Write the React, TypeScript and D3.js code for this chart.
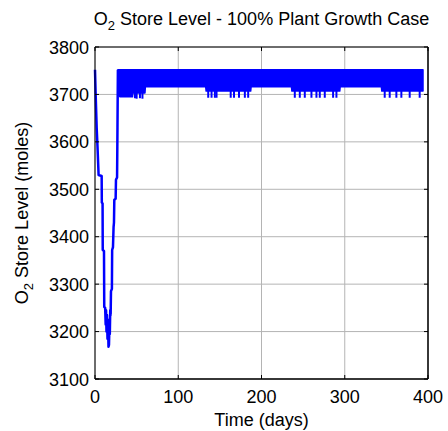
import React from 'react';
import * as d3 from 'd3';

// ---- data ----
const xTicks = [0, 100, 200, 300, 400];
const yTicks = [3100, 3200, 3300, 3400, 3500, 3600, 3700, 3800];

// initial draw-down and recovery (day, moles)
const descentDays = [0, 0.8, 2, 3, 4, 4.3, 8, 8.2, 9.1, 9.3, 10.8, 11.1, 12.2, 12.8, 13.3, 13.8, 14.4, 15, 15.6, 16.2, 16.8, 17.3, 17.8, 18.3, 18.8, 19.2, 20.3, 20.6, 21.6, 22.3, 22.8, 23.2, 24.8, 25.2, 26.5, 26.8, 27.0, 27.5];
const descentValues = [3752, 3700, 3630, 3590, 3545, 3530, 3528, 3472, 3470, 3372, 3370, 3252, 3250, 3215, 3245, 3200, 3235, 3185, 3225, 3168, 3172, 3210, 3195, 3245, 3235, 3285, 3290, 3372, 3378, 3420, 3430, 3478, 3480, 3520, 3525, 3585, 3630, 3752];

// steady-state oscillation envelope
const bandDays = [27.5, 30, 45, 45.5, 60, 60.5, 133, 133.5, 187, 187.5, 236, 236.5, 294, 294.5, 344, 344.5, 394];
const bandHigh = [3752, 3752, 3752, 3752, 3752, 3752, 3752, 3752, 3752, 3752, 3752, 3752, 3752, 3752, 3752, 3752, 3752];
const bandLow = [3700, 3695, 3695, 3703, 3703, 3716, 3716, 3707, 3707, 3716, 3716, 3707, 3707, 3716, 3716, 3707, 3707];

// deeper individual dips of the oscillation
const dipDays = [48, 50, 54, 57, 136, 140, 144, 146, 163, 167, 173, 180, 184, 240, 246, 252, 260, 266, 270, 276, 286, 290, 348, 354, 362, 368, 378, 390];
const dipValues = [3692, 3691, 3692, 3691, 3693, 3693, 3693, 3693, 3693, 3693, 3693, 3693, 3693, 3693, 3693, 3693, 3693, 3693, 3693, 3693, 3693, 3693, 3693, 3693, 3693, 3693, 3693, 3693];

const W = 448;
const H = 431;
const L = 95, R = 428, T = 47, B = 379;
const FONT = '"Liberation Sans", Arial, Helvetica, sans-serif';
const BLUE = '#0000ff';

export default function App() {
  const x = d3.scaleLinear().domain([0, 400]).range([L, R]);
  const y = d3.scaleLinear().domain([3100, 3800]).range([B, T]);

  const descent = d3.line<number>()
    .x((_, i) => x(descentDays[i]))
    .y((d) => y(d))(descentValues) || '';

  const band = d3.area<number>()
    .x((d) => x(d))
    .y0((_, i) => y(bandLow[i]))
    .y1((_, i) => y(bandHigh[i]))(bandDays) || '';

  const tickLen = 4;

  return (
    <svg width={W} height={H} style={{ position: 'absolute', left: 0, top: 0, background: '#fff' }} fontFamily={FONT}>
      <rect x={0} y={0} width={W} height={H} fill="#fff" />
      {/* grid */}
      {xTicks.map((t) => (
        <line key={'gx' + t} x1={x(t)} x2={x(t)} y1={T} y2={B} stroke="#b4b4b4" strokeWidth={1} />
      ))}
      {yTicks.map((t) => (
        <line key={'gy' + t} x1={L} x2={R} y1={y(t)} y2={y(t)} stroke="#b4b4b4" strokeWidth={1} />
      ))}

      {/* data */}
      <path d={band} fill={BLUE} stroke={BLUE} strokeWidth={1.5} strokeLinejoin="round" />
      {dipDays.map((d, i) => (
        <line key={'dip' + i} x1={x(d)} x2={x(d)} y1={y(3716)} y2={y(dipValues[i])} stroke={BLUE} strokeWidth={2} />
      ))}
      <path d={descent} fill="none" stroke={BLUE} strokeWidth={2.5} strokeLinejoin="round" />

      {/* ticks */}
      {xTicks.map((t) => (
        <g key={'tx' + t}>
          <line x1={x(t)} x2={x(t)} y1={B} y2={B - tickLen} stroke="#000" />
          <line x1={x(t)} x2={x(t)} y1={T} y2={T + tickLen} stroke="#000" />
          <text x={x(t)} y={403} textAnchor="middle" fontSize={18} fill="#000">{t}</text>
        </g>
      ))}
      {yTicks.map((t) => (
        <g key={'ty' + t}>
          <line x1={L} x2={L + tickLen} y1={y(t)} y2={y(t)} stroke="#000" />
          <line x1={R} x2={R - tickLen} y1={y(t)} y2={y(t)} stroke="#000" />
          <text x={89} y={y(t) + 6.5} textAnchor="end" fontSize={18} fill="#000">{t}</text>
        </g>
      ))}

      {/* box */}
      <line x1={L} x2={R} y1={T} y2={T} stroke="#000" strokeWidth={1} />
      <line x1={L} x2={L} y1={T} y2={B} stroke="#000" strokeWidth={1} />
      <line x1={R} x2={R} y1={T} y2={B} stroke="#000" strokeWidth={1.5} />
      <line x1={L} x2={R} y1={B} y2={B} stroke="#000" strokeWidth={1.5} />

      {/* title */}
      <text x={(L + R) / 2} y={25} textAnchor="middle" fontSize={18} fill="#000">
        O<tspan fontSize={13} dy={5}>2</tspan><tspan dy={-5}> Store Level - 100% Plant Growth Case</tspan>
      </text>
      {/* axis labels */}
      <text x={(L + R) / 2} y={426} textAnchor="middle" fontSize={18} fill="#000">Time (days)</text>
      <text transform={`translate(28, ${(T + B) / 2}) rotate(-90)`} textAnchor="middle" fontSize={18} fill="#000">
        O<tspan fontSize={13} dy={5}>2</tspan><tspan dy={-5}> Store Level (moles)</tspan>
      </text>
    </svg>
  );
}
